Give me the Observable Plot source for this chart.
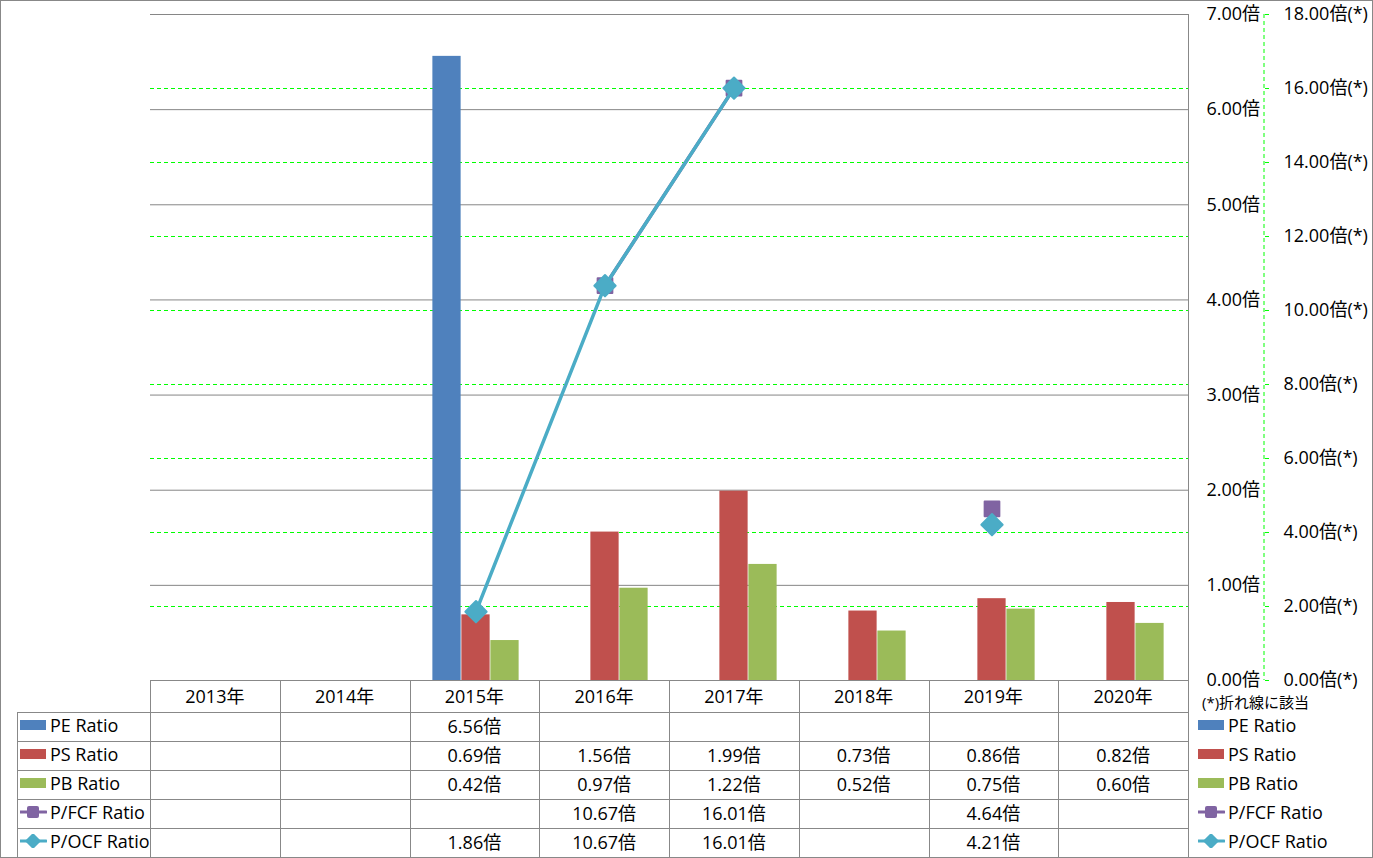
<!DOCTYPE html>
<html><head><meta charset="utf-8">
<script src="https://cdn.jsdelivr.net/npm/d3@7"></script>
<script src="https://cdn.jsdelivr.net/npm/@observablehq/plot@0.6"></script>
<style>
body{margin:0;background:#fff;}
#wrap{position:relative;width:1373px;height:858px;overflow:hidden;font-family:"Open Sans","Noto Sans CJK JP",sans-serif;font-size:18px;color:#000;background:#fff;}
.frame{position:absolute;left:0;top:0;width:1373px;height:858px;box-sizing:border-box;border:1px solid #888;pointer-events:none;}
.h{position:absolute;height:0;border-top:1px solid #888;}
.v{position:absolute;width:0;border-left:1px solid #888;}
.cell{position:absolute;display:flex;align-items:center;justify-content:center;white-space:nowrap;box-sizing:border-box;padding-bottom:3px;}
.lg{position:absolute;display:flex;align-items:center;white-space:nowrap;box-sizing:border-box;padding-bottom:3px;}
</style></head><body><div id="wrap"></div>
<script>
// ---- data ----
const years = ["2013年","2014年","2015年","2016年","2017年","2018年","2019年","2020年"];
const peRatio  = [null,null,6.56,null,null,null,null,null];
const psRatio  = [null,null,0.69,1.56,1.99,0.73,0.86,0.82];
const pbRatio  = [null,null,0.42,0.97,1.22,0.52,0.75,0.60];
const pfcfRatio = [null,null,null,10.67,16.01,null,4.64,null];
const pocfRatio = [null,null,1.86,10.67,16.01,null,4.21,null];
const primaryTicks = [0,1,2,3,4,5,6,7];
const secondaryTicks = [0,2,4,6,8,10,12,14,16,18];
const seriesNames = ["PE Ratio","PS Ratio","PB Ratio","P/FCF Ratio","P/OCF Ratio"];
const seriesColors = ["#4F81BD","#C0504D","#9BBB59","#8064A2","#4BACC6"];
const noteText = "(*)折れ線に該当";

// ---- layout ----
const k = 7/18; // secondary -> primary mapping
const L = 150, R = 1188, TOP = 14, BOT = 680;
const BW = (R - L) / years.length;
const barW = 29, off = (BW - 3*barW)/2;

const data = years.map((y,i)=>({year:y, pe:peRatio[i], ps:psRatio[i], pb:pbRatio[i], fcf:pfcfRatio[i], ocf:pocfRatio[i]}));

const plot = Plot.plot({
  width: 1373, height: 700,
  marginTop: TOP, marginBottom: 700 - BOT, marginLeft: L, marginRight: 1373 - R,
  x: {domain: years, padding: 0, axis: null},
  y: {domain: [0, 7]},
  style: {fontFamily: '"Open Sans","Noto Sans CJK JP",sans-serif', fontSize: "18px", color: "#000", background: "transparent", overflow: "visible"},
  marks: [
    Plot.ruleY(primaryTicks.filter(v => v > 0), {stroke: "#868686", strokeWidth: 1}),
    Plot.ruleY(secondaryTicks.filter(v => v > 0 && v < 18), {y: d => d*k, stroke: "#00ff00", strokeWidth: 1, strokeDasharray: "4,3"}),
    Plot.barY(data, {x: "year", y: "pe", fill: seriesColors[0], insetLeft: off, insetRight: BW - off - barW}),
    Plot.barY(data, {x: "year", y: "ps", fill: seriesColors[1], insetLeft: off + barW, insetRight: off + barW}),
    Plot.barY(data, {x: "year", y: "pb", fill: seriesColors[2], insetLeft: BW - off - barW, insetRight: off}),
    Plot.line(data, {x: "year", y: d => d.fcf == null ? NaN : d.fcf*k, stroke: seriesColors[3], strokeWidth: 3.5}),
    Plot.dot(data.filter(d => d.fcf != null), {x: "year", y: d => d.fcf*k, symbol: "square", r: 8.3, fill: seriesColors[3], stroke: seriesColors[3], strokeWidth: 2, strokeLinejoin: "round"}),
    Plot.line(data, {x: "year", y: d => d.ocf == null ? NaN : d.ocf*k, stroke: seriesColors[4], strokeWidth: 3.5}),
    Plot.dot(data.filter(d => d.ocf != null), {x: "year", y: d => d.ocf*k, symbol: "diamond2", r: 9.6, fill: seriesColors[4], stroke: seriesColors[4], strokeWidth: 2, strokeLinejoin: "round"}),
    Plot.axisY(primaryTicks, {anchor: "right", tickSize: 0, tickPadding: 18, textAnchor: "start", tickFormat: d => d.toFixed(2) + "倍", label: null}),
    Plot.axisY(secondaryTicks.map(v => v*k), {anchor: "right", dx: 76, tickSize: 4, tickPadding: 15, stroke: "#00ff00", textAnchor: "start", tickFormat: d => (d/k).toFixed(2) + "倍(*)", label: null})
  ]
});
plot.style.position = "absolute";
plot.style.left = "0px";
plot.style.top = "0px";
const wrap = document.getElementById("wrap");
wrap.appendChild(plot);

// secondary axis line (dashed)
const ys = plot.scale("y");
d3.select(plot).append("line")
  .attr("x1", R + 76).attr("x2", R + 76)
  .attr("y1", ys.apply(7)).attr("y2", ys.apply(0))
  .attr("stroke", "#00ff00").attr("stroke-dasharray", "4,3");

// ---- data table ----
function add(cls, style, html) {
  const d = document.createElement("div");
  d.className = cls;
  Object.assign(d.style, style);
  if (html != null) d.innerHTML = html;
  wrap.appendChild(d);
  return d;
}
const rowTops = [712, 741, 770, 799, 828];
const rowH = 29;
// lines
add("h", {left: L + "px", top: BOT + "px", width: (R - L) + "px"});
rowTops.forEach(t => add("h", {left: "17px", top: t + "px", width: (R - 17) + "px"}));
add("v", {left: "17px", top: "712px", height: "146px"});
for (let i = 0; i < years.length; i++) add("v", {left: Math.round(L + i*BW) + "px", top: BOT + "px", height: (858 - BOT) + "px"});
add("v", {left: R + "px", top: TOP + "px", height: (858 - TOP) + "px"});
// header
years.forEach((y, i) => add("cell", {left: (L + i*BW) + "px", top: BOT + "px", width: BW + "px", height: "32px"}, y));
// values
const rows = [peRatio, psRatio, pbRatio, pfcfRatio, pocfRatio];
rows.forEach((arr, r) => arr.forEach((v, i) => {
  if (v != null) add("cell", {left: (L + i*BW) + "px", top: rowTops[r] + "px", width: BW + "px", height: rowH + "px"}, v.toFixed(2) + "倍");
}));
// legend swatches
function swatch(i) {
  if (i < 3) return `<svg width="27" height="14" style="margin-right:3px"><rect x="0" y="2" width="26" height="10" fill="${seriesColors[i]}"/></svg>`;
  const c = seriesColors[i];
  const mk = i === 3
    ? `<rect x="7" y="1" width="12" height="12" rx="2" fill="${c}"/>`
    : `<path d="M13 0 L20 7 L13 14 L6 7 Z" fill="${c}" stroke="${c}" stroke-width="1.5" stroke-linejoin="round"/>`;
  return `<svg width="27" height="14" style="margin-right:3px"><line x1="0" x2="26" y1="7" y2="7" stroke="${c}" stroke-width="3" stroke-linecap="round"/>${mk}</svg>`;
}
seriesNames.forEach((n, i) => {
  add("lg", {left: "20px", top: rowTops[i] + "px", height: rowH + "px"}, swatch(i) + n);
  add("lg", {left: "1198px", top: rowTops[i] + "px", height: rowH + "px"}, swatch(i) + n);
});
add("lg", {left: "1202px", top: "690px", height: "26px", fontSize: "15px"}, noteText);
add("frame", {});
</script></body></html>
